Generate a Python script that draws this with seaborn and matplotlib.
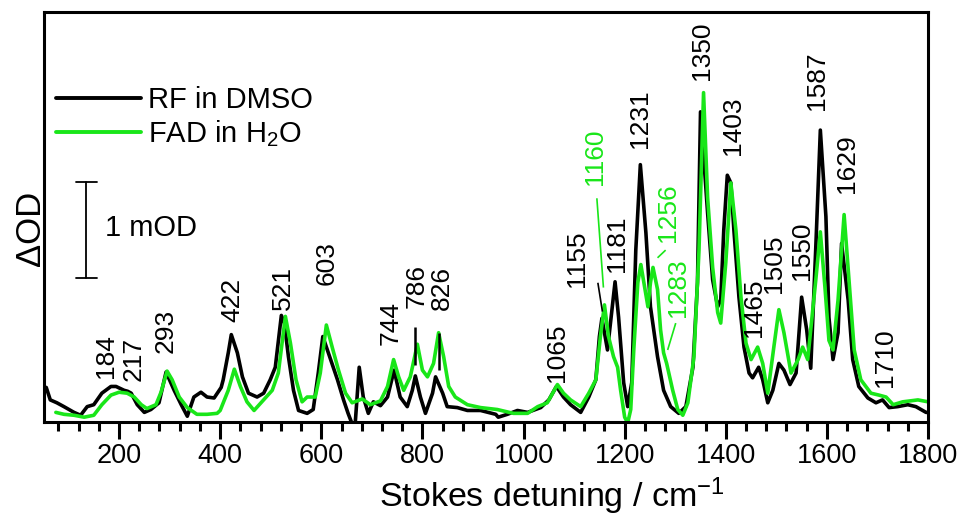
import matplotlib
matplotlib.use("Agg")
import matplotlib.pyplot as plt
from matplotlib.ticker import FixedLocator, NullLocator
import pandas as pd
import seaborn as sns

# Stimulated Raman spectra: Stokes shift (cm^-1) and signal (mOD)
rf_shift = [52, 56, 64, 77, 91, 111, 124, 137, 150, 166, 184, 194, 210, 217, 224, 236,
            250, 263, 279, 293, 309, 323, 335, 348, 362, 374, 388, 402, 406, 416, 422,
            434, 444, 456, 473, 486, 499, 509, 521, 527, 535, 545, 555, 572, 584, 594,
            603, 614, 632, 644, 653, 661, 667, 675, 683, 693, 703, 717, 731, 744, 756,
            770, 780, 786, 796, 806, 820, 826, 840, 849, 869, 889, 915, 945, 950, 968,
            988, 1008, 1034, 1050, 1065, 1079, 1093, 1113, 1129, 1143, 1150, 1155, 1166,
            1181, 1188, 1198, 1206, 1214, 1222, 1231, 1242, 1251, 1265, 1277, 1291, 1307,
            1321, 1335, 1344, 1350, 1364, 1374, 1384, 1390, 1396, 1403, 1410, 1416, 1426,
            1436, 1446, 1453, 1465, 1473, 1483, 1493, 1505, 1515, 1527, 1539, 1550, 1560,
            1568, 1578, 1587, 1598, 1604, 1612, 1622, 1629, 1642, 1651, 1663, 1681, 1697,
            1710, 1723, 1740, 1760, 1776, 1796, 1800]
rf_dod = [0.33, 0.36, 0.23, 0.20, 0.16, 0.10, 0.07, 0.16, 0.18, 0.30, 0.37, 0.37, 0.33,
          0.32, 0.30, 0.18, 0.10, 0.13, 0.20, 0.52, 0.33, 0.18, 0.06, 0.26, 0.31, 0.26,
          0.25, 0.36, 0.44, 0.72, 0.91, 0.72, 0.47, 0.30, 0.26, 0.30, 0.44, 0.57, 1.11,
          1.03, 0.68, 0.33, 0.12, 0.09, 0.13, 0.51, 0.89, 0.72, 0.44, 0.23, 0.09, -0.02,
          -0.02, 0.57, 0.26, 0.09, 0.21, 0.17, 0.26, 0.54, 0.26, 0.16, 0.33, 0.48, 0.26,
          0.09, 0.30, 0.47, 0.30, 0.16, 0.15, 0.12, 0.12, 0.08, 0.05, 0.08, 0.12, 0.10,
          0.15, 0.23, 0.37, 0.26, 0.18, 0.10, 0.26, 0.44, 0.89, 1.08, 0.75, 1.46, 1.09,
          0.41, 0.16, 0.41, 1.79, 2.68, 1.97, 1.20, 0.68, 0.33, 0.16, 0.09, 0.16, 0.57,
          1.45, 3.23, 2.18, 1.48, 1.20, 1.27, 2.00, 2.57, 2.49, 2.00, 1.30, 0.78, 0.51,
          0.46, 0.57, 0.44, 0.20, 0.33, 0.61, 0.54, 0.39, 0.51, 1.30, 0.96, 0.56, 1.82,
          3.04, 2.14, 1.09, 0.65, 0.93, 1.86, 1.27, 0.65, 0.37, 0.25, 0.20, 0.23, 0.15,
          0.16, 0.18, 0.16, 0.10, 0.10]

fad_shift = [75, 91, 111, 131, 150, 166, 184, 200, 216, 230, 244, 255, 273, 283, 295,
             305, 319, 335, 354, 374, 394, 400, 416, 428, 440, 453, 467, 486, 503, 515,
             529, 539, 550, 562, 572, 588, 598, 610, 622, 634, 648, 661, 681, 697, 717,
             731, 743, 753, 763, 776, 790, 800, 810, 822, 832, 842, 852, 865, 889, 915,
             948, 980, 1008, 1028, 1047, 1067, 1079, 1093, 1113, 1129, 1143, 1152, 1160,
             1168, 1178, 1186, 1192, 1200, 1206, 1212, 1218, 1226, 1232, 1238, 1246, 1251,
             1256, 1265, 1271, 1277, 1283, 1295, 1305, 1315, 1325, 1337, 1347, 1356, 1364,
             1374, 1384, 1390, 1400, 1410, 1420, 1430, 1440, 1450, 1463, 1473, 1483, 1495,
             1505, 1515, 1529, 1543, 1552, 1562, 1578, 1587, 1596, 1604, 1612, 1622, 1634,
             1644, 1654, 1667, 1687, 1703, 1717, 1731, 1750, 1780, 1800]
fad_dod = [0.10, 0.08, 0.07, 0.05, 0.07, 0.18, 0.28, 0.31, 0.30, 0.26, 0.18, 0.14, 0.18,
           0.31, 0.53, 0.44, 0.26, 0.15, 0.08, 0.08, 0.09, 0.12, 0.33, 0.55, 0.37, 0.21,
           0.12, 0.23, 0.33, 0.51, 1.10, 0.82, 0.44, 0.21, 0.26, 0.26, 0.51, 1.01, 0.77,
           0.54, 0.30, 0.20, 0.24, 0.18, 0.22, 0.37, 0.65, 0.47, 0.33, 0.47, 0.81, 0.54,
           0.47, 0.61, 0.93, 0.68, 0.37, 0.26, 0.18, 0.15, 0.13, 0.09, 0.09, 0.16, 0.20,
           0.39, 0.30, 0.23, 0.16, 0.30, 0.44, 0.89, 1.22, 0.89, 0.68, 0.57, 0.33, 0.05,
           -0.01, 0.13, 0.75, 1.45, 1.64, 1.45, 1.20, 1.45, 1.61, 1.38, 0.96, 0.72, 0.61,
           0.33, 0.13, 0.07, 0.20, 0.68, 1.79, 3.43, 2.34, 1.61, 1.14, 1.03, 1.66, 2.49,
           2.00, 1.30, 0.82, 0.65, 0.78, 0.61, 0.30, 0.78, 1.17, 0.93, 0.51, 0.65, 0.78,
           0.65, 1.48, 1.98, 1.41, 0.85, 0.75, 1.27, 2.16, 1.45, 0.75, 0.44, 0.30, 0.28,
           0.26, 0.18, 0.21, 0.23, 0.21]

series_names = ["RF in DMSO", "FAD in H$_\\mathregular{2}$O"]
series_colors = ["#000000", "#19e619"]

# Band assignments: text, x position, y of the text's lower end, colour index
band_text = ["184", "217", "293", "422", "521", "603", "744", "786", "826", "1065",
             "1155", "1160", "1181", "1231", "1256", "1283", "1350", "1403", "1465",
             "1505", "1550", "1587", "1629", "1710"]
band_x = [174, 228, 293, 424, 525, 610, 737, 789, 838, 1067,
          1105, 1141, 1184, 1230, 1285, 1305, 1352, 1414, 1455,
          1495, 1550, 1580, 1640, 1715]
band_y = [0.46, 0.43, 0.72, 1.04, 1.17, 1.43, 0.80, 1.19, 1.17, 0.42,
          1.41, 2.47, 1.56, 2.85, 1.875, 1.09, 3.56, 2.78, 0.885,
          1.34, 1.48, 3.25, 2.385, 0.365]
band_col = [0, 0, 0, 0, 0, 0, 0, 0, 0, 0,
            0, 1, 0, 0, 1, 1, 0, 0, 0,
            0, 0, 0, 0, 0]

# Leader lines from labels to bands
lead_x0 = [786, 832, 1147, 1145, 1281, 1301]
lead_y0 = [0.99, 0.93, 1.45, 2.33, 1.79, 1.03]
lead_x1 = [786, 832, 1156, 1158, 1265, 1285]
lead_y1 = [0.59, 0.54, 1.15, 1.40, 1.71, 0.75]
lead_col = [0, 0, 0, 1, 1, 1]
lead_lw = [1.8, 1.8, 1.2, 1.2, 1.2, 1.2]

sns.set_style("ticks")
plt.rcParams["font.family"] = ["Liberation Sans", "DejaVu Sans"]
plt.rcParams["mathtext.fontset"] = "custom"
plt.rcParams["mathtext.rm"] = "Liberation Sans"
plt.rcParams["mathtext.it"] = "Liberation Sans:italic"
plt.rcParams["mathtext.bf"] = "Liberation Sans:bold"
plt.rcParams["text.color"] = "black"
plt.rcParams["axes.labelcolor"] = "black"
plt.rcParams["xtick.color"] = "black"
plt.rcParams["xtick.labelcolor"] = "black"

df = pd.concat([
    pd.DataFrame({"shift": rf_shift, "dod": rf_dod, "sample": series_names[0]}),
    pd.DataFrame({"shift": fad_shift, "dod": fad_dod, "sample": series_names[1]}),
])

fig = plt.figure(figsize=(9.62, 5.15), dpi=100)
ax = fig.add_axes([0.0457, 0.1806, 0.9190, 0.7961])

sns.lineplot(data=df, x="shift", y="dod", hue="sample", hue_order=series_names,
             palette=series_colors, estimator=None, sort=False, linewidth=2.6,
             ax=ax, legend=True)

ax.set_xlim(51.5, 1800)
ax.set_ylim(0, 4.27)

for t, x, y, c in zip(band_text, band_x, band_y, band_col):
    ax.text(x, y, t, rotation=90, ha="center", va="bottom", fontsize=19,
            color=series_colors[c])

for x0, y0, x1, y1, c, lw in zip(lead_x0, lead_y0, lead_x1, lead_y1, lead_col, lead_lw):
    ax.plot([x0, x1], [y0, y1], color=series_colors[c], lw=lw, solid_capstyle="butt")

# 1 mOD scale bar
ax.plot([135, 135], [1.5, 2.5], color="black", lw=1.3)
ax.plot([115, 156], [1.5, 1.5], color="black", lw=1.3)
ax.plot([115, 156], [2.5, 2.5], color="black", lw=1.3)
ax.text(172, 2.02, "1 mOD", ha="left", va="center", fontsize=21, color="black")

leg = ax.legend(loc="upper left", bbox_to_anchor=(0.014, 0.82), frameon=False,
                fontsize=21, handlelength=2.9, handletextpad=0.25,
                labelspacing=0.15, borderpad=0, borderaxespad=0)
for line in leg.get_lines():
    line.set_linewidth(2.8)
for txt in leg.get_texts():
    txt.set_color("black")

ax.xaxis.set_major_locator(FixedLocator(list(range(200, 1801, 200))))
ax.xaxis.set_minor_locator(FixedLocator(list(range(80, 1800, 40))))
ax.yaxis.set_major_locator(NullLocator())
ax.tick_params(axis="x", which="major", direction="out", length=12, width=2.2,
               labelsize=19.5, pad=3, color="black", labelcolor="black")
ax.tick_params(axis="x", which="minor", direction="out", length=6.5, width=2.2,
               color="black")
for s in ax.spines.values():
    s.set_visible(True)
    s.set_linewidth(2.2)
    s.set_color("black")

ax.set_xlabel("Stokes detuning / cm$^{\\mathregular{-1}}$", fontsize=24.5, color="black")
ax.xaxis.label.set_va("center")
ax.xaxis.set_label_coords(0.574, -0.18)
ax.set_ylabel("ΔOD", fontsize=25, color="black")
ax.yaxis.label.set_va("center")
ax.yaxis.label.set_rotation_mode("default")
ax.yaxis.set_label_coords(-0.015, 0.473)

fig.savefig("out.png", dpi=100)
